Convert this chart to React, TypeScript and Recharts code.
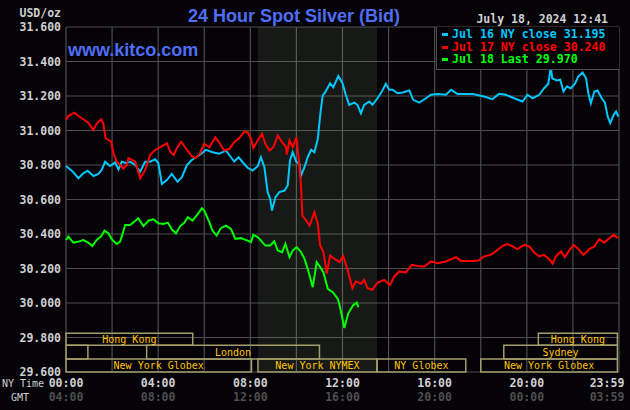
import React from 'react';
import { LineChart, Line, XAxis, YAxis, CartesianGrid, ReferenceArea } from 'recharts';

// hours after 00:00 NY time, value in USD/oz
const blueHours = [0, 0.25, 0.54, 0.75, 0.94, 1.19, 1.4, 1.55, 1.7, 1.91, 2.13, 2.28, 2.42, 2.64, 2.78, 3.0, 3.22, 3.43, 3.65, 3.87, 4.01, 4.16, 4.38, 4.59, 4.84, 5.03, 5.25, 5.46, 5.68, 5.9, 6.07, 6.36, 6.65, 6.94, 7.16, 7.3, 7.49, 7.67, 7.88, 8.1, 8.32, 8.46, 8.61, 8.75, 8.86, 8.94, 9.09, 9.26, 9.48, 9.62, 9.72, 9.84, 9.99, 10.13, 10.2, 10.35, 10.49, 10.64, 10.78, 10.93, 11.03, 11.14, 11.24, 11.46, 11.6, 11.82, 12.0, 12.14, 12.29, 12.51, 12.65, 12.8, 12.94, 13.16, 13.3, 13.52, 13.71, 13.88, 14.03, 14.17, 14.39, 14.61, 14.9, 15.07, 15.33, 15.62, 15.84, 16.13, 16.49, 16.71, 17.0, 17.65, 18.14, 18.51, 18.8, 19.09, 19.45, 19.81, 20.03, 20.25, 20.54, 20.75, 20.93, 21.04, 21.1, 21.3, 21.45, 21.59, 21.74, 21.91, 22.09, 22.23, 22.42, 22.57, 22.67, 22.78, 22.93, 23.07, 23.25, 23.39, 23.51, 23.62, 23.77, 23.87, 23.97];
const blueValues = [30.794, 30.767, 30.723, 30.752, 30.767, 30.736, 30.748, 30.771, 30.819, 30.794, 30.814, 30.775, 30.819, 30.81, 30.819, 30.8, 30.761, 30.819, 30.819, 30.833, 30.81, 30.69, 30.713, 30.748, 30.703, 30.729, 30.8, 30.829, 30.848, 30.868, 30.888, 30.874, 30.865, 30.884, 30.845, 30.82, 30.845, 30.816, 30.784, 30.768, 30.793, 30.845, 30.787, 30.643, 30.604, 30.536, 30.614, 30.643, 30.652, 30.681, 30.826, 30.874, 30.82, 30.807, 30.739, 30.787, 30.845, 30.888, 30.874, 30.952, 31.087, 31.203, 31.219, 31.274, 31.25, 31.316, 31.274, 31.207, 31.149, 31.162, 31.149, 31.1, 31.149, 31.168, 31.149, 31.187, 31.226, 31.271, 31.236, 31.236, 31.216, 31.22, 31.232, 31.178, 31.162, 31.187, 31.207, 31.211, 31.207, 31.236, 31.211, 31.211, 31.197, 31.182, 31.213, 31.207, 31.187, 31.168, 31.207, 31.187, 31.207, 31.245, 31.271, 31.367, 31.303, 31.29, 31.294, 31.226, 31.255, 31.245, 31.271, 31.313, 31.336, 31.303, 31.216, 31.158, 31.226, 31.232, 31.187, 31.162, 31.081, 31.043, 31.091, 31.11, 31.081];

const redHours = [0, 0.1, 0.36, 0.54, 0.75, 0.97, 1.19, 1.33, 1.52, 1.62, 1.72, 1.96, 2.06, 2.2, 2.35, 2.49, 2.64, 2.71, 2.86, 3.0, 3.22, 3.43, 3.65, 3.87, 4.16, 4.38, 4.52, 4.67, 4.81, 5.0, 5.25, 5.46, 5.61, 5.8, 6.0, 6.22, 6.48, 6.65, 6.87, 7.09, 7.3, 7.52, 7.74, 7.88, 8.03, 8.13, 8.32, 8.51, 8.65, 8.83, 9.0, 9.19, 9.38, 9.55, 9.58, 9.7, 9.84, 10.0, 10.1, 10.2, 10.26, 10.42, 10.57, 10.78, 10.93, 11.03, 11.17, 11.32, 11.46, 11.65, 11.87, 12.03, 12.22, 12.43, 12.58, 12.8, 12.94, 13.09, 13.3, 13.52, 13.81, 14.06, 14.25, 14.46, 14.75, 15.01, 15.26, 15.55, 15.84, 16.13, 16.49, 16.93, 17.14, 17.65, 17.9, 18.14, 18.43, 18.65, 18.94, 19.16, 19.38, 19.59, 19.88, 20.1, 20.32, 20.54, 20.75, 20.97, 21.12, 21.26, 21.48, 21.65, 21.84, 22.03, 22.2, 22.46, 22.71, 22.93, 23.14, 23.36, 23.58, 23.77, 23.97];
const redValues = [31.061, 31.084, 31.103, 31.084, 31.065, 31.045, 31.003, 31.04, 31.065, 31.04, 30.955, 30.935, 30.867, 30.82, 30.8, 30.78, 30.8, 30.84, 30.83, 30.82, 30.723, 30.77, 30.858, 30.887, 30.91, 30.926, 30.877, 30.858, 30.897, 30.935, 30.887, 30.852, 30.839, 30.865, 30.923, 30.903, 30.961, 30.93, 30.884, 30.894, 30.932, 30.956, 30.994, 30.99, 30.952, 30.898, 30.942, 30.981, 30.923, 30.884, 30.903, 30.971, 30.932, 30.903, 30.86, 30.942, 30.903, 30.961, 30.836, 30.68, 30.507, 30.478, 30.449, 30.527, 30.459, 30.333, 30.295, 30.17, 30.275, 30.256, 30.237, 30.273, 30.192, 30.086, 30.125, 30.111, 30.134, 30.086, 30.076, 30.119, 30.134, 30.105, 30.154, 30.183, 30.177, 30.221, 30.215, 30.212, 30.241, 30.231, 30.241, 30.266, 30.244, 30.244, 30.246, 30.27, 30.279, 30.299, 30.331, 30.341, 30.328, 30.312, 30.337, 30.328, 30.293, 30.27, 30.279, 30.254, 30.227, 30.27, 30.299, 30.266, 30.305, 30.337, 30.318, 30.279, 30.312, 30.328, 30.37, 30.35, 30.375, 30.395, 30.375];

const greenHours = [0, 0.1, 0.32, 0.54, 0.75, 0.97, 1.14, 1.33, 1.52, 1.67, 1.84, 1.99, 2.2, 2.35, 2.57, 2.78, 2.97, 3.14, 3.36, 3.58, 3.8, 4.01, 4.23, 4.42, 4.59, 4.77, 4.96, 5.14, 5.29, 5.49, 5.68, 5.9, 6.0, 6.22, 6.36, 6.54, 6.72, 6.94, 7.16, 7.35, 7.59, 7.88, 8.03, 8.13, 8.32, 8.46, 8.65, 8.86, 9.04, 9.19, 9.38, 9.52, 9.7, 9.84, 10.01, 10.2, 10.35, 10.49, 10.71, 10.88, 11.03, 11.17, 11.36, 11.58, 11.8, 11.89, 12.08, 12.25, 12.47, 12.62, 12.69];
const greenValues = [30.365, 30.385, 30.35, 30.356, 30.365, 30.35, 30.33, 30.365, 30.385, 30.419, 30.404, 30.369, 30.342, 30.356, 30.452, 30.452, 30.472, 30.491, 30.446, 30.477, 30.485, 30.462, 30.458, 30.466, 30.427, 30.404, 30.446, 30.466, 30.497, 30.477, 30.51, 30.549, 30.536, 30.469, 30.42, 30.391, 30.434, 30.449, 30.43, 30.372, 30.376, 30.362, 30.353, 30.395, 30.382, 30.362, 30.333, 30.333, 30.357, 30.304, 30.295, 30.343, 30.266, 30.304, 30.324, 30.295, 30.256, 30.198, 30.092, 30.237, 30.208, 30.179, 30.082, 30.063, 30.024, 29.979, 29.855, 29.94, 29.988, 30.002, 29.975];

const seriesNames = ['Jul 16 NY close 31.195', 'Jul 17 NY close 30.240', 'Jul 18 Last 29.970'];

const yTicks = [29.6, 29.8, 30.0, 30.2, 30.4, 30.6, 30.8, 31.0, 31.2, 31.4, 31.6];
const xTicks = [0, 2, 4, 6, 8, 10, 12, 14, 16, 18, 20, 22, 24];
const nyLabels = ['00:00', '', '04:00', '', '08:00', '', '12:00', '', '16:00', '', '20:00', '', '23:59'];
const gmtLabels = ['04:00', '', '08:00', '', '12:00', '', '16:00', '', '20:00', '', '00:00', '', '03:59'];

// market sessions shown under the plot (row 1 top, row 3 bottom)
const sessions = [
  { name: 'Hong Kong', start: 0, end: 5.5, row: 1 },
  { name: 'Hong Kong', start: 20.5, end: 23.93, row: 1 },
  { name: '', start: 0, end: 0.95, row: 2 },
  { name: 'London', start: 3.5, end: 11, row: 2 },
  { name: 'Sydney', start: 19, end: 23.93, row: 2 },
  { name: 'New York Globex', start: 0, end: 8.05, row: 3 },
  { name: 'New York NYMEX', start: 8.33, end: 13.5, row: 3 },
  { name: 'NY Globex', start: 13.5, end: 17.35, row: 3 },
  { name: 'New York Globex', start: 18, end: 23.93, row: 3 },
];

const comexOpen = 8.33;
const comexClose = 13.5;

const toRows = (hours: number[], values: number[]) => hours.map((h, i) => ({ h, v: values[i] }));

const MONO = "'DejaVu Sans Mono', monospace";
const SANS = "'Liberation Sans', Arial, sans-serif";
const COLORS = ['#00c8ff', '#ff0000', '#00ff00'];
const rowBounds: Record<number, [number, number]> = {
  1: [29.755, 29.824],
  2: [29.675, 29.755],
  3: [29.6, 29.675],
};

const TimeTick = (props: any) => {
  const { x, y, payload } = props;
  const i = xTicks.indexOf(payload.value);
  if (i < 0 || !nyLabels[i]) return <g />;
  const shift = i === xTicks.length - 1 ? -12 : 0;
  return (
    <g>
      <text x={x + shift} y={y + 15} textAnchor="middle" fill="#cfcfcf" fontFamily={MONO} fontWeight="bold" fontSize={11.5}>
        {nyLabels[i]}
      </text>
      <text x={x + shift} y={y + 29} textAnchor="middle" fill="#4e4e4e" fontFamily={MONO} fontWeight="bold" fontSize={11.5}>
        {gmtLabels[i]}
      </text>
    </g>
  );
};

const LegendBox = () => (
  <div
    style={{
      position: 'absolute',
      left: 436,
      top: 27,
      width: 183,
      height: 43,
      background: '#050308',
      borderLeft: '1px solid #4c4c4c',
      borderBottom: '1px solid #4c4c4c',
      paddingTop: 1,
      boxSizing: 'border-box',
      fontFamily: MONO,
      fontWeight: 'bold',
      fontSize: 11.6,
      lineHeight: '12.5px',
    }}
  >
    {seriesNames.map((name, i) => (
      <div key={name} style={{ color: COLORS[i], whiteSpace: 'nowrap', paddingLeft: 5 }}>
        <span style={{ display: 'inline-block', width: 6, height: 3, background: COLORS[i], verticalAlign: 'middle', marginRight: 4 }} />
        {name}
      </div>
    ))}
  </div>
);

export default function App() {
  return (
    <div style={{ position: 'absolute', left: 0, top: 0, width: 630, height: 410, background: '#050308' }}>
      <LineChart width={630} height={410} margin={{ top: 27, right: 11, bottom: 0, left: 0 }}>
        <ReferenceArea x1={comexOpen} x2={comexClose} fill="#b9dfa0" fillOpacity={0.1} stroke="none" />
        <CartesianGrid stroke="#4c4c4c" strokeWidth={1.2} />
        <XAxis
          type="number"
          dataKey="h"
          domain={[0, 24]}
          ticks={xTicks}
          interval={0}
          height={38}
          tickSize={0}
          tickMargin={0}
          axisLine={false}
          tickLine={false}
          tick={<TimeTick />}
        />
        <YAxis
          type="number"
          domain={[29.6, 31.6]}
          ticks={yTicks}
          interval={0}
          width={66}
          tickSize={0}
          tickMargin={5}
          axisLine={false}
          tickLine={false}
          tickFormatter={(v: number) => v.toFixed(3)}
          tick={{ fill: '#cfcfcf', fontFamily: MONO, fontWeight: 'bold', fontSize: 11.5 }}
        />
        {sessions.map((s, i) => (
          <ReferenceArea
            key={i}
            x1={s.start}
            x2={s.end}
            y1={rowBounds[s.row][0]}
            y2={rowBounds[s.row][1]}
            fill="none"
            stroke="#a39d6c"
            strokeWidth={1.5}
            label={s.name ? { value: s.name, position: 'center', fill: '#ffc400', fontSize: 10, fontFamily: MONO } : undefined}
          />
        ))}
        <Line data={toRows(blueHours, blueValues)} dataKey="v" name={seriesNames[0]} stroke={COLORS[0]} strokeWidth={2} dot={false} isAnimationActive={false} />
        <Line data={toRows(redHours, redValues)} dataKey="v" name={seriesNames[1]} stroke={COLORS[1]} strokeWidth={2} dot={false} isAnimationActive={false} />
        <Line data={toRows(greenHours, greenValues)} dataKey="v" name={seriesNames[2]} stroke={COLORS[2]} strokeWidth={2} dot={false} isAnimationActive={false} />
        <text x={294} y={22} textAnchor="middle" fill="#4f6df5" fontFamily={SANS} fontWeight="bold" fontSize={18}>
          24 Hour Spot Silver (Bid)
        </text>
        <text x={68} y={56} fill="#4f6df5" fontFamily={SANS} fontWeight="bold" fontSize={18}>
          www.kitco.com
        </text>
        <text x={608} y={23} textAnchor="end" fill="#cfcfcf" fontFamily={MONO} fontWeight="bold" fontSize={11.5}>
          July 18, 2024 12:41
        </text>
        <text x={61} y={17} textAnchor="end" fill="#cfcfcf" fontFamily={MONO} fontWeight="bold" fontSize={11.5}>
          USD/oz
        </text>
        <text x={23} y={387} textAnchor="middle" fill="#cfcfcf" fontFamily={MONO} fontSize={10}>
          NY Time
        </text>
        <text x={20} y={401} textAnchor="middle" fill="#cfcfcf" fontFamily={MONO} fontSize={10}>
          GMT
        </text>
      </LineChart>
      <LegendBox />
    </div>
  );
}
